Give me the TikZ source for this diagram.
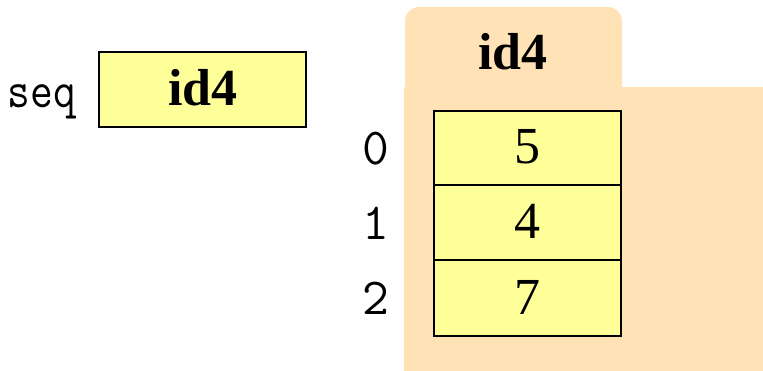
\documentclass[tikz,border=0pt]{standalone}
\usepackage{fontspec}
\setmainfont{Liberation Serif}
\definecolor{peach}{HTML}{FFE2B6}
\definecolor{cellyellow}{HTML}{FFFF99}
\begin{document}
\begin{tikzpicture}[x=1pt,y=-1pt,
  cellbox/.style={draw=black, line width=2pt, fill=cellyellow, inner sep=0pt,
    minimum width=187pt, minimum height=75pt},
  numtext/.style={font=\fontsize{52}{60}\selectfont, inner sep=0pt, anchor=base},
  idtext/.style={font=\fontsize{52}{60}\selectfont\bfseries, inner sep=0pt, anchor=base},
  monotext/.style={font=\fontsize{52}{60}\selectfont\ttfamily, inner sep=0pt, anchor=base}]
\useasboundingbox (0,0) rectangle (763,371);
% folder background
\fill[peach, rounded corners=14pt] (405,110) rectangle (622,7);
\fill[peach] (404,87) rectangle (763,371);
% variable
\node[monotext] (seqlabel) at (42,108) {\scalebox{0.85}[1]{seq}};
\node[cellbox, minimum width=207pt] (seqbox) at (202.5,89.5) {};
\node[idtext] (seqval) at (203,106) {id4};
% folder label
\node[idtext] (foldername) at (513,70) {id4};
% cells
\node[cellbox] (c0) at (527.5,148.5) {};
\node[cellbox] (c1) at (527.5,223) {};
\node[cellbox] (c2) at (527.5,298) {};
\node[numtext] (v0) at (527,164) {5};
\node[numtext] (v1) at (527,239) {4};
\node[numtext] (v2) at (527,315) {7};
% indices
\node[monotext] (i0) at (376,165) {0};
\node[monotext] (i1) at (376,240) {1};
\node[monotext] (i2) at (376,315) {2};
\end{tikzpicture}
\end{document}
